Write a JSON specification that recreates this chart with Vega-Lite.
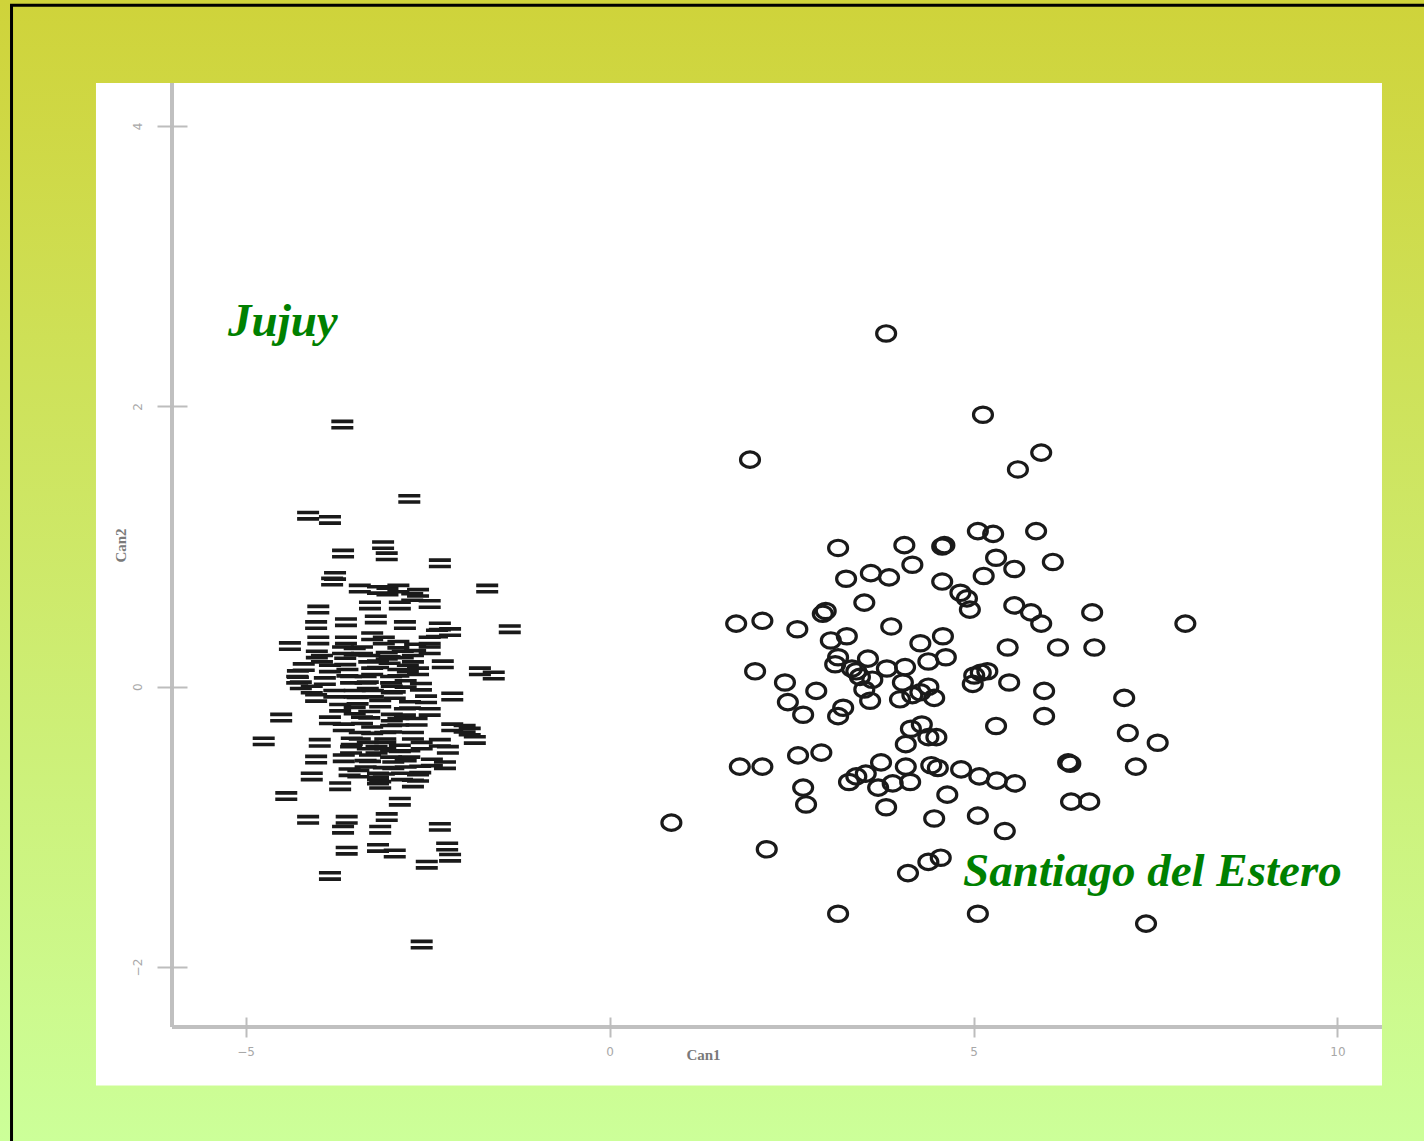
{
  "$schema": "https://vega.github.io/schema/vega-lite/v6.json",
  "width": 1424,
  "height": 1141,
  "autosize": {"type": "none"},
  "padding": 0,
  "background": "#cfd33a",
  "config": {
    "view": {
      "stroke": null,
      "fill": {
        "gradient": "linear",
        "x1": 0, "y1": 0, "x2": 0, "y2": 1,
        "stops": [
          {"offset": 0, "color": "#cfd33a"},
          {"offset": 1, "color": "#ccff99"}
        ]
      }
    }
  },
  "layer": [
    {
      "description": "white plotting panel",
      "data": {"values": [{"x": -7.054, "x2": 10.611, "y": 4.307, "y2": -2.845}]},
      "mark": {"type": "rect", "fill": "#ffffff", "clip": false},
      "encoding": {
        "x": {"field": "x", "type": "quantitative", "scale": {"domain": [-8.3723, 11.1882], "nice": false, "zero": false}},
        "x2": {"field": "x2"},
        "y": {"field": "y", "type": "quantitative", "scale": {"domain": [-3.2411, 4.8991], "nice": false, "zero": false}},
        "y2": {"field": "y2"}
      }
    },
    {
      "description": "axis lines of the canonical plot",
      "data": {"values": [
        {"x": -6.0096, "x2": 10.611, "y": -2.4278, "y2": -2.4278},
        {"x": -6.0096, "x2": -6.0096, "y": -2.4278, "y2": 4.307}
      ]},
      "mark": {"type": "rule", "color": "#c0c0c0", "strokeWidth": 4, "clip": false},
      "encoding": {
        "x": {"field": "x", "type": "quantitative"},
        "x2": {"field": "x2"},
        "y": {"field": "y", "type": "quantitative"},
        "y2": {"field": "y2"}
      }
    },
    {
      "description": "canonical scores, one row per specimen",
      "data": {"values": [
        {"group": "Santiago del Estero", "x": 3.80, "y": 2.52},
        {"group": "Santiago del Estero", "x": 5.13, "y": 1.94},
        {"group": "Santiago del Estero", "x": 1.93, "y": 1.62},
        {"group": "Santiago del Estero", "x": 5.93, "y": 1.67},
        {"group": "Santiago del Estero", "x": 5.61, "y": 1.55},
        {"group": "Santiago del Estero", "x": 5.06, "y": 1.11},
        {"group": "Santiago del Estero", "x": 5.27, "y": 1.09},
        {"group": "Santiago del Estero", "x": 5.86, "y": 1.11},
        {"group": "Santiago del Estero", "x": 3.14, "y": 0.99},
        {"group": "Santiago del Estero", "x": 4.05, "y": 1.01},
        {"group": "Santiago del Estero", "x": 4.57, "y": 1.00},
        {"group": "Santiago del Estero", "x": 4.60, "y": 1.01},
        {"group": "Santiago del Estero", "x": 5.31, "y": 0.92},
        {"group": "Santiago del Estero", "x": 4.16, "y": 0.87},
        {"group": "Santiago del Estero", "x": 6.09, "y": 0.89},
        {"group": "Santiago del Estero", "x": 5.56, "y": 0.84},
        {"group": "Santiago del Estero", "x": 5.14, "y": 0.79},
        {"group": "Santiago del Estero", "x": 3.25, "y": 0.77},
        {"group": "Santiago del Estero", "x": 3.59, "y": 0.81},
        {"group": "Santiago del Estero", "x": 3.84, "y": 0.78},
        {"group": "Santiago del Estero", "x": 4.57, "y": 0.75},
        {"group": "Santiago del Estero", "x": 4.82, "y": 0.67},
        {"group": "Santiago del Estero", "x": 4.91, "y": 0.63},
        {"group": "Santiago del Estero", "x": 4.95, "y": 0.55},
        {"group": "Santiago del Estero", "x": 3.50, "y": 0.60},
        {"group": "Santiago del Estero", "x": 2.97, "y": 0.54},
        {"group": "Santiago del Estero", "x": 2.93, "y": 0.52},
        {"group": "Santiago del Estero", "x": 5.56, "y": 0.58},
        {"group": "Santiago del Estero", "x": 5.79, "y": 0.53},
        {"group": "Santiago del Estero", "x": 5.93, "y": 0.45},
        {"group": "Santiago del Estero", "x": 6.63, "y": 0.53},
        {"group": "Santiago del Estero", "x": 7.91, "y": 0.45},
        {"group": "Santiago del Estero", "x": 1.74, "y": 0.45},
        {"group": "Santiago del Estero", "x": 2.10, "y": 0.47},
        {"group": "Santiago del Estero", "x": 2.58, "y": 0.41},
        {"group": "Santiago del Estero", "x": 3.87, "y": 0.43},
        {"group": "Santiago del Estero", "x": 3.04, "y": 0.33},
        {"group": "Santiago del Estero", "x": 3.26, "y": 0.36},
        {"group": "Santiago del Estero", "x": 4.27, "y": 0.31},
        {"group": "Santiago del Estero", "x": 4.58, "y": 0.36},
        {"group": "Santiago del Estero", "x": 5.47, "y": 0.28},
        {"group": "Santiago del Estero", "x": 6.16, "y": 0.28},
        {"group": "Santiago del Estero", "x": 6.66, "y": 0.28},
        {"group": "Santiago del Estero", "x": 2.00, "y": 0.11},
        {"group": "Santiago del Estero", "x": 3.14, "y": 0.21},
        {"group": "Santiago del Estero", "x": 3.55, "y": 0.20},
        {"group": "Santiago del Estero", "x": 4.62, "y": 0.21},
        {"group": "Santiago del Estero", "x": 4.38, "y": 0.18},
        {"group": "Santiago del Estero", "x": 4.06, "y": 0.14},
        {"group": "Santiago del Estero", "x": 3.81, "y": 0.13},
        {"group": "Santiago del Estero", "x": 3.39, "y": 0.11},
        {"group": "Santiago del Estero", "x": 3.33, "y": 0.13},
        {"group": "Santiago del Estero", "x": 3.44, "y": 0.07},
        {"group": "Santiago del Estero", "x": 3.61, "y": 0.05},
        {"group": "Santiago del Estero", "x": 3.50, "y": -0.02},
        {"group": "Santiago del Estero", "x": 5.01, "y": 0.08},
        {"group": "Santiago del Estero", "x": 5.10, "y": 0.10},
        {"group": "Santiago del Estero", "x": 5.19, "y": 0.11},
        {"group": "Santiago del Estero", "x": 4.99, "y": 0.02},
        {"group": "Santiago del Estero", "x": 5.49, "y": 0.03},
        {"group": "Santiago del Estero", "x": 4.03, "y": 0.03},
        {"group": "Santiago del Estero", "x": 4.16, "y": -0.06},
        {"group": "Santiago del Estero", "x": 3.99, "y": -0.09},
        {"group": "Santiago del Estero", "x": 4.38, "y": 0.00},
        {"group": "Santiago del Estero", "x": 4.46, "y": -0.08},
        {"group": "Santiago del Estero", "x": 4.27, "y": -0.04},
        {"group": "Santiago del Estero", "x": 2.41, "y": 0.03},
        {"group": "Santiago del Estero", "x": 2.84, "y": -0.03},
        {"group": "Santiago del Estero", "x": 2.45, "y": -0.11},
        {"group": "Santiago del Estero", "x": 2.66, "y": -0.20},
        {"group": "Santiago del Estero", "x": 3.21, "y": -0.15},
        {"group": "Santiago del Estero", "x": 3.14, "y": -0.21},
        {"group": "Santiago del Estero", "x": 5.97, "y": -0.03},
        {"group": "Santiago del Estero", "x": 5.97, "y": -0.21},
        {"group": "Santiago del Estero", "x": 7.07, "y": -0.08},
        {"group": "Santiago del Estero", "x": 5.31, "y": -0.28},
        {"group": "Santiago del Estero", "x": 4.14, "y": -0.30},
        {"group": "Santiago del Estero", "x": 4.29, "y": -0.27},
        {"group": "Santiago del Estero", "x": 4.38, "y": -0.36},
        {"group": "Santiago del Estero", "x": 4.49, "y": -0.36},
        {"group": "Santiago del Estero", "x": 4.07, "y": -0.41},
        {"group": "Santiago del Estero", "x": 7.12, "y": -0.33},
        {"group": "Santiago del Estero", "x": 7.53, "y": -0.40},
        {"group": "Santiago del Estero", "x": 2.59, "y": -0.49},
        {"group": "Santiago del Estero", "x": 2.91, "y": -0.47},
        {"group": "Santiago del Estero", "x": 1.79, "y": -0.57},
        {"group": "Santiago del Estero", "x": 2.10, "y": -0.57},
        {"group": "Santiago del Estero", "x": 3.73, "y": -0.54},
        {"group": "Santiago del Estero", "x": 4.07, "y": -0.57},
        {"group": "Santiago del Estero", "x": 4.42, "y": -0.56},
        {"group": "Santiago del Estero", "x": 4.51, "y": -0.58},
        {"group": "Santiago del Estero", "x": 4.83, "y": -0.59},
        {"group": "Santiago del Estero", "x": 5.08, "y": -0.64},
        {"group": "Santiago del Estero", "x": 5.32, "y": -0.67},
        {"group": "Santiago del Estero", "x": 5.57, "y": -0.69},
        {"group": "Santiago del Estero", "x": 6.30, "y": -0.54},
        {"group": "Santiago del Estero", "x": 6.33, "y": -0.55},
        {"group": "Santiago del Estero", "x": 7.23, "y": -0.57},
        {"group": "Santiago del Estero", "x": 3.52, "y": -0.62},
        {"group": "Santiago del Estero", "x": 3.39, "y": -0.64},
        {"group": "Santiago del Estero", "x": 3.29, "y": -0.68},
        {"group": "Santiago del Estero", "x": 3.69, "y": -0.72},
        {"group": "Santiago del Estero", "x": 3.89, "y": -0.69},
        {"group": "Santiago del Estero", "x": 4.13, "y": -0.68},
        {"group": "Santiago del Estero", "x": 2.66, "y": -0.72},
        {"group": "Santiago del Estero", "x": 2.70, "y": -0.84},
        {"group": "Santiago del Estero", "x": 3.80, "y": -0.86},
        {"group": "Santiago del Estero", "x": 4.64, "y": -0.77},
        {"group": "Santiago del Estero", "x": 6.34, "y": -0.82},
        {"group": "Santiago del Estero", "x": 6.59, "y": -0.82},
        {"group": "Santiago del Estero", "x": 4.46, "y": -0.94},
        {"group": "Santiago del Estero", "x": 5.06, "y": -0.92},
        {"group": "Santiago del Estero", "x": 5.43, "y": -1.03},
        {"group": "Santiago del Estero", "x": 0.85, "y": -0.97},
        {"group": "Santiago del Estero", "x": 2.16, "y": -1.16},
        {"group": "Santiago del Estero", "x": 4.55, "y": -1.22},
        {"group": "Santiago del Estero", "x": 4.38, "y": -1.25},
        {"group": "Santiago del Estero", "x": 4.10, "y": -1.33},
        {"group": "Santiago del Estero", "x": 3.14, "y": -1.62},
        {"group": "Santiago del Estero", "x": 5.06, "y": -1.62},
        {"group": "Santiago del Estero", "x": 7.37, "y": -1.69},
        {"group": "Santiago del Estero", "x": 3.10, "y": 0.16},
        {"group": "Santiago del Estero", "x": 3.58, "y": -0.10},
        {"group": "Jujuy", "x": -3.67, "y": 1.87},
        {"group": "Jujuy", "x": -2.75, "y": 1.34},
        {"group": "Jujuy", "x": -4.14, "y": 1.22},
        {"group": "Jujuy", "x": -3.84, "y": 1.19},
        {"group": "Jujuy", "x": -3.11, "y": 1.01},
        {"group": "Jujuy", "x": -3.66, "y": 0.95},
        {"group": "Jujuy", "x": -3.06, "y": 0.93},
        {"group": "Jujuy", "x": -2.33, "y": 0.88},
        {"group": "Jujuy", "x": -3.77, "y": 0.79},
        {"group": "Jujuy", "x": -3.81, "y": 0.75},
        {"group": "Jujuy", "x": -1.68, "y": 0.70},
        {"group": "Jujuy", "x": -3.43, "y": 0.70},
        {"group": "Jujuy", "x": -3.18, "y": 0.69},
        {"group": "Jujuy", "x": -2.63, "y": 0.67},
        {"group": "Jujuy", "x": -2.71, "y": 0.64},
        {"group": "Jujuy", "x": -3.05, "y": 0.68},
        {"group": "Jujuy", "x": -2.90, "y": 0.70},
        {"group": "Jujuy", "x": -3.29, "y": 0.58},
        {"group": "Jujuy", "x": -4.00, "y": 0.55},
        {"group": "Jujuy", "x": -2.88, "y": 0.58},
        {"group": "Jujuy", "x": -2.47, "y": 0.59},
        {"group": "Jujuy", "x": -4.03, "y": 0.44},
        {"group": "Jujuy", "x": -3.62, "y": 0.46},
        {"group": "Jujuy", "x": -3.21, "y": 0.48},
        {"group": "Jujuy", "x": -2.81, "y": 0.44},
        {"group": "Jujuy", "x": -2.33, "y": 0.43},
        {"group": "Jujuy", "x": -2.37, "y": 0.38},
        {"group": "Jujuy", "x": -1.37, "y": 0.41},
        {"group": "Jujuy", "x": -4.39, "y": 0.29},
        {"group": "Jujuy", "x": -4.00, "y": 0.33},
        {"group": "Jujuy", "x": -3.62, "y": 0.33},
        {"group": "Jujuy", "x": -3.26, "y": 0.36},
        {"group": "Jujuy", "x": -3.10, "y": 0.33},
        {"group": "Jujuy", "x": -2.47, "y": 0.33},
        {"group": "Jujuy", "x": -2.19, "y": 0.39},
        {"group": "Jujuy", "x": -4.02, "y": 0.23},
        {"group": "Jujuy", "x": -3.66, "y": 0.26},
        {"group": "Jujuy", "x": -3.40, "y": 0.26},
        {"group": "Jujuy", "x": -3.06, "y": 0.22},
        {"group": "Jujuy", "x": -2.84, "y": 0.23},
        {"group": "Jujuy", "x": -2.67, "y": 0.28},
        {"group": "Jujuy", "x": -2.47, "y": 0.26},
        {"group": "Jujuy", "x": -4.29, "y": 0.05},
        {"group": "Jujuy", "x": -3.84, "y": 0.13},
        {"group": "Jujuy", "x": -3.63, "y": 0.18},
        {"group": "Jujuy", "x": -3.18, "y": 0.16},
        {"group": "Jujuy", "x": -3.02, "y": 0.19},
        {"group": "Jujuy", "x": -2.77, "y": 0.13},
        {"group": "Jujuy", "x": -2.63, "y": 0.11},
        {"group": "Jujuy", "x": -2.29, "y": 0.16},
        {"group": "Jujuy", "x": -1.78, "y": 0.11},
        {"group": "Jujuy", "x": -1.59, "y": 0.08},
        {"group": "Jujuy", "x": -4.24, "y": 0.01},
        {"group": "Jujuy", "x": -3.91, "y": 0.04},
        {"group": "Jujuy", "x": -3.55, "y": 0.05},
        {"group": "Jujuy", "x": -3.32, "y": 0.01},
        {"group": "Jujuy", "x": -2.99, "y": -0.02},
        {"group": "Jujuy", "x": -2.59, "y": 0.00},
        {"group": "Jujuy", "x": -4.51, "y": -0.22},
        {"group": "Jujuy", "x": -4.03, "y": -0.08},
        {"group": "Jujuy", "x": -3.78, "y": -0.05},
        {"group": "Jujuy", "x": -3.46, "y": -0.10},
        {"group": "Jujuy", "x": -3.15, "y": -0.12},
        {"group": "Jujuy", "x": -2.74, "y": -0.13},
        {"group": "Jujuy", "x": -2.52, "y": -0.09},
        {"group": "Jujuy", "x": -2.16, "y": -0.07},
        {"group": "Jujuy", "x": -3.84, "y": -0.24},
        {"group": "Jujuy", "x": -3.65, "y": -0.29},
        {"group": "Jujuy", "x": -3.40, "y": -0.24},
        {"group": "Jujuy", "x": -2.99, "y": -0.22},
        {"group": "Jujuy", "x": -2.81, "y": -0.18},
        {"group": "Jujuy", "x": -2.47, "y": -0.18},
        {"group": "Jujuy", "x": -2.16, "y": -0.29},
        {"group": "Jujuy", "x": -1.99, "y": -0.30},
        {"group": "Jujuy", "x": -1.85, "y": -0.38},
        {"group": "Jujuy", "x": -4.75, "y": -0.39},
        {"group": "Jujuy", "x": -3.98, "y": -0.40},
        {"group": "Jujuy", "x": -3.54, "y": -0.39},
        {"group": "Jujuy", "x": -3.32, "y": -0.42},
        {"group": "Jujuy", "x": -3.08, "y": -0.42},
        {"group": "Jujuy", "x": -2.88, "y": -0.44},
        {"group": "Jujuy", "x": -2.58, "y": -0.42},
        {"group": "Jujuy", "x": -2.33, "y": -0.40},
        {"group": "Jujuy", "x": -4.03, "y": -0.52},
        {"group": "Jujuy", "x": -3.65, "y": -0.51},
        {"group": "Jujuy", "x": -3.29, "y": -0.51},
        {"group": "Jujuy", "x": -2.97, "y": -0.56},
        {"group": "Jujuy", "x": -2.60, "y": -0.59},
        {"group": "Jujuy", "x": -2.44, "y": -0.54},
        {"group": "Jujuy", "x": -2.26, "y": -0.56},
        {"group": "Jujuy", "x": -4.09, "y": -0.64},
        {"group": "Jujuy", "x": -3.57, "y": -0.61},
        {"group": "Jujuy", "x": -3.18, "y": -0.64},
        {"group": "Jujuy", "x": -2.85, "y": -0.64},
        {"group": "Jujuy", "x": -2.63, "y": -0.65},
        {"group": "Jujuy", "x": -4.44, "y": -0.78},
        {"group": "Jujuy", "x": -3.70, "y": -0.71},
        {"group": "Jujuy", "x": -3.18, "y": -0.67},
        {"group": "Jujuy", "x": -2.88, "y": -0.82},
        {"group": "Jujuy", "x": -3.06, "y": -0.93},
        {"group": "Jujuy", "x": -3.15, "y": -1.02},
        {"group": "Jujuy", "x": -3.66, "y": -1.02},
        {"group": "Jujuy", "x": -4.14, "y": -0.95},
        {"group": "Jujuy", "x": -3.61, "y": -0.95},
        {"group": "Jujuy", "x": -2.33, "y": -1.00},
        {"group": "Jujuy", "x": -3.61, "y": -1.17},
        {"group": "Jujuy", "x": -3.18, "y": -1.15},
        {"group": "Jujuy", "x": -2.95, "y": -1.19},
        {"group": "Jujuy", "x": -2.23, "y": -1.14},
        {"group": "Jujuy", "x": -2.19, "y": -1.22},
        {"group": "Jujuy", "x": -2.51, "y": -1.27},
        {"group": "Jujuy", "x": -3.84, "y": -1.35},
        {"group": "Jujuy", "x": -2.58, "y": -1.84},
        {"group": "Jujuy", "x": -2.70, "y": -0.69},
        {"group": "Jujuy", "x": -2.22, "y": -0.45},
        {"group": "Jujuy", "x": -1.92, "y": -0.32},
        {"group": "Jujuy", "x": -3.50, "y": -0.17},
        {"group": "Jujuy", "x": -3.26, "y": -0.31},
        {"group": "Jujuy", "x": -3.08, "y": -0.35},
        {"group": "Jujuy", "x": -3.43, "y": -0.35},
        {"group": "Jujuy", "x": -2.95, "y": -0.06},
        {"group": "Jujuy", "x": -3.26, "y": 0.11},
        {"group": "Jujuy", "x": -3.50, "y": -0.05},
        {"group": "Jujuy", "x": -4.28, "y": 0.09},
        {"group": "Jujuy", "x": -4.09, "y": -0.02},
        {"group": "Jujuy", "x": -3.20, "y": -0.45},
        {"group": "Jujuy", "x": -3.00, "y": -0.30},
        {"group": "Jujuy", "x": -2.80, "y": -0.55},
        {"group": "Jujuy", "x": -3.10, "y": -0.60},
        {"group": "Jujuy", "x": -2.70, "y": -0.35},
        {"group": "Jujuy", "x": -3.35, "y": 0.05},
        {"group": "Jujuy", "x": -2.90, "y": 0.10},
        {"group": "Jujuy", "x": -3.50, "y": 0.25},
        {"group": "Jujuy", "x": -3.30, "y": 0.20},
        {"group": "Jujuy", "x": -2.90, "y": 0.30},
        {"group": "Jujuy", "x": -2.70, "y": 0.20},
        {"group": "Jujuy", "x": -3.60, "y": 0.10},
        {"group": "Jujuy", "x": -3.00, "y": 0.05},
        {"group": "Jujuy", "x": -2.80, "y": 0.02},
        {"group": "Jujuy", "x": -3.70, "y": -0.15},
        {"group": "Jujuy", "x": -3.30, "y": -0.20},
        {"group": "Jujuy", "x": -2.90, "y": -0.25},
        {"group": "Jujuy", "x": -3.55, "y": -0.45},
        {"group": "Jujuy", "x": -3.35, "y": -0.55},
        {"group": "Jujuy", "x": -3.15, "y": -0.70},
        {"group": "Jujuy", "x": -3.00, "y": -0.48},
        {"group": "Jujuy", "x": -2.75, "y": -0.48},
        {"group": "Jujuy", "x": -3.45, "y": -0.62},
        {"group": "Jujuy", "x": -3.25, "y": -0.05},
        {"group": "Jujuy", "x": -2.65, "y": -0.25},
        {"group": "Jujuy", "x": -4.20, "y": 0.14},
        {"group": "Jujuy", "x": -3.95, "y": 0.20}
      ]},
      "mark": {"type": "point", "filled": false, "stroke": "#1a1a1a", "opacity": 1, "size": 484, "clip": false},
      "encoding": {
        "x": {
          "field": "x", "type": "quantitative",
          "axis": {
            "values": [-5, 0, 5, 10], "format": "d",
            "domain": false, "grid": false, "zindex": 1,
            "offset": -124, "tickSize": 20, "tickWidth": 2, "tickColor": "#bdbdbd",
            "labelColor": "#a8a8a8", "labelFont": "DejaVu Sans", "labelFontSize": 12, "labelPadding": 9,
            "title": "Can1", "titleX": 703, "titleY": 37, "titleAlign": "center", "titleBaseline": "middle",
            "titleFont": "Liberation Serif", "titleFontWeight": "bold", "titleFontSize": 15, "titleColor": "#7a7a7a"
          }
        },
        "y": {
          "field": "y", "type": "quantitative",
          "axis": {
            "values": [-2, 0, 2, 4], "format": "d",
            "domain": false, "grid": false, "zindex": 1,
            "offset": -187, "tickSize": 30, "tickWidth": 2, "tickColor": "#bdbdbd",
            "labelColor": "#a8a8a8", "labelFont": "DejaVu Sans", "labelFontSize": 12,
            "labelAngle": 270, "labelAlign": "center", "labelBaseline": "middle", "labelPadding": 20,
            "title": "Can2", "titleX": -67, "titleY": 545, "titleAngle": 270, "titleAlign": "center", "titleBaseline": "middle",
            "titleFont": "Liberation Serif", "titleFontWeight": "bold", "titleFontSize": 15, "titleColor": "#7a7a7a"
          }
        },
        "shape": {
          "field": "group", "type": "nominal", "legend": null,
          "scale": {
            "domain": ["Jujuy", "Santiago del Estero"],
            "range": [
              "M-1,-0.29H1M-1,0.29H1",
              "M-0.86,0A0.86,0.7 0 1,0 0.86,0A0.86,0.7 0 1,0 -0.86,0Z"
            ]
          }
        },
        "strokeWidth": {
          "field": "group", "type": "nominal", "legend": null,
          "scale": {"domain": ["Jujuy", "Santiago del Estero"], "range": [3.6, 3.2]}
        }
      }
    },
    {
      "description": "province labels",
      "data": {"values": [
        {"label": "Jujuy", "x": -5.24, "y": 2.50},
        {"label": "Santiago del Estero", "x": 4.856, "y": -1.422}
      ]},
      "mark": {"type": "text", "align": "left", "baseline": "alphabetic", "font": "Liberation Serif", "fontStyle": "italic", "fontWeight": "bold", "fontSize": 47, "color": "#008000", "clip": false},
      "encoding": {
        "x": {"field": "x", "type": "quantitative"},
        "y": {"field": "y", "type": "quantitative"},
        "text": {"field": "label"}
      }
    },
    {
      "description": "slide frame",
      "data": {"values": [{"x": -8.214, "x2": 12, "y": 4.861, "y2": -4}]},
      "mark": {"type": "rect", "fill": null, "fillOpacity": 0, "stroke": "#000000", "strokeWidth": 3, "clip": false},
      "encoding": {
        "x": {"field": "x", "type": "quantitative"},
        "x2": {"field": "x2"},
        "y": {"field": "y", "type": "quantitative"},
        "y2": {"field": "y2"}
      }
    }
  ]
}
